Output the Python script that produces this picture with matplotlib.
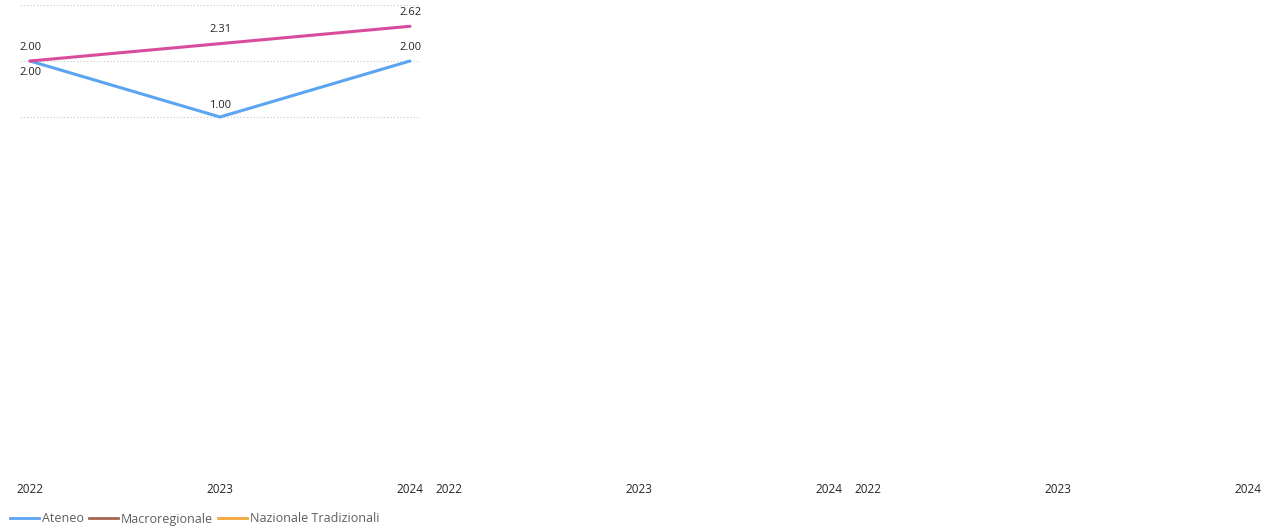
import matplotlib
matplotlib.use("Agg")
import matplotlib.pyplot as plt
from matplotlib.lines import Line2D

plt.rcParams["font.family"] = ["Open Sans", "DejaVu Sans"]

anni = [2022, 2023, 2024]
ateneo = [2.00, 1.00, 2.00]
rosa = [2.00, 2.31, 2.62]

serie_legenda = ["Ateneo", "Macroregionale", "Nazionale Tradizionali"]
colori_legenda = ["#5BA4F2", "#A5664F", "#F2A83B"]
colore_rosa = "#D84C9E"

W, H = 1274, 531
fig = plt.figure(figsize=(W / 100, H / 100), dpi=100)

px_anno = 190
y_top, y_bot = 5, 475
px_unita = 56
ymax = 3.0
ymin = ymax - (y_bot - y_top) / px_unita

assi = []
for i in range(3):
    left = 20 + 419 * i
    ax = fig.add_axes([left / W, (H - y_bot) / H, 400 / W, (y_bot - y_top) / H])
    ax.set_xlim(2022 - 10 / px_anno, 2024 + 10 / px_anno)
    ax.set_ylim(ymin, ymax)
    ax.set_xticks(anni)
    ax.set_xticklabels([str(a) for a in anni])
    ax.tick_params(axis="x", length=0, pad=6, labelsize=8.5, labelcolor="#252423")
    ax.set_yticks([])
    for s in ax.spines.values():
        s.set_visible(False)
    assi.append(ax)

ax = assi[0]
for v in [1, 2, 3]:
    ax.axhline(v, color="#C8C6C4", lw=0.8, ls=(0, (1, 2)), zorder=0)

ax.plot(anni, ateneo, color=colori_legenda[0], lw=2.2, solid_capstyle="round", zorder=3)
ax.plot(anni, rosa, color=colore_rosa, lw=2.2, solid_capstyle="round", zorder=3)

stile = dict(fontsize=8, color="#252423", ha="center")
# etichette dati
ax.annotate(f"{rosa[0]:.2f}", (anni[0], rosa[0]), xytext=(0, 6), textcoords="offset points", va="bottom", **stile)
ax.annotate(f"{rosa[1]:.2f}", (anni[1], rosa[1]), xytext=(0, 6), textcoords="offset points", va="bottom", **stile)
ax.annotate(f"{rosa[2]:.2f}", (anni[2], rosa[2]), xytext=(0, 6), textcoords="offset points", va="bottom", **stile)
ax.annotate(f"{ateneo[0]:.2f}", (anni[0], ateneo[0]), xytext=(0, -4), textcoords="offset points", va="top", **stile)
ax.annotate(f"{ateneo[1]:.2f}", (anni[1], ateneo[1]), xytext=(0, 4), textcoords="offset points", va="bottom", **stile)
ax.annotate(f"{ateneo[2]:.2f}", (anni[2], ateneo[2]), xytext=(0, 6), textcoords="offset points", va="bottom", **stile)

handles = [Line2D([0], [0], color=c, lw=2) for c in colori_legenda]
leg = fig.legend(handles, serie_legenda, loc="center left", bbox_to_anchor=(10 / W, 12 / H),
                 ncol=3, frameon=False, fontsize=9, handlelength=2.3, handletextpad=0.25,
                 columnspacing=0.4, borderaxespad=0, borderpad=0)
for t in leg.get_texts():
    t.set_color("#605E5C")

fig.savefig("out.png", dpi=100, facecolor="white")
